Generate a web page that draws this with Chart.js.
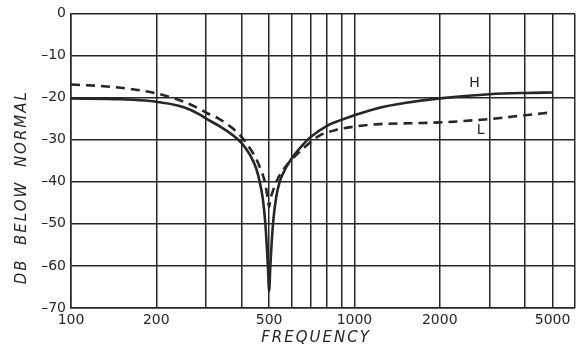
<!DOCTYPE html>
<html>
<head>
<meta charset="utf-8">
<script src="https://cdn.jsdelivr.net/npm/chart.js@4/dist/chart.umd.min.js"></script>
<style>
html, body { margin: 0; padding: 0; background: #fff; }
</style>
</head>
<body>
<canvas id="chart" width="583" height="350"></canvas>
<script>
// curve H (solid)
var freq_h = [100, 150, 190, 250, 284, 300, 334, 370, 400, 427, 450, 463, 475, 485, 495, 500, 505, 516, 530, 545, 560, 600, 650, 700, 800, 900, 1000, 1225, 1500, 2000, 3000, 4000, 5000];
var db_h = [-20.2, -20.4, -20.8, -22.3, -24.0, -25.0, -26.8, -28.8, -30.8, -33.5, -36.8, -40, -44, -50, -60, -66, -60, -50, -43.5, -40, -38, -34.5, -31.6, -29.4, -26.7, -25.3, -24.2, -22.4, -21.3, -20.2, -19.2, -18.9, -18.8];

// curve L (dashed)
var freq_l = [100, 130, 160, 200, 250, 284, 300, 334, 370, 400, 430, 450, 470, 483, 494, 500, 506, 518, 530, 560, 600, 657, 750, 870, 1000, 1225, 1600, 2000, 3000, 4000, 5000];
var db_l = [-16.9, -17.3, -17.9, -19.0, -21.0, -22.7, -23.6, -25.1, -27.2, -29.4, -32.3, -34.5, -37.6, -40, -43.8, -46, -44, -41.8, -40, -37.2, -34.8, -32.2, -29.1, -27.6, -26.9, -26.3, -26.1, -25.9, -25.1, -24.2, -23.5];

var grid_freqs = [100, 200, 300, 400, 500, 600, 700, 800, 900, 1000, 2000, 3000, 4000, 5000, 6000];
var labelled_freqs = [100, 200, 500, 1000, 2000, 5000];
var db_ticks = [0, -10, -20, -30, -40, -50, -60, -70];

var curve_names = ['H', 'L'];
var name_freq = [2650, 2790];
var name_db = [-16.7, -27.8];

function points(xs, ys) {
    return xs.map(function(x, i) { return {x: x, y: ys[i]}; });
}

var ink = '#262626';

// axis titles and curve names
var annotations = {
    id: 'annotations',
    afterDraw: function(chart) {
        var ctx = chart.ctx,
            area = chart.chartArea,
            xs = chart.scales.x,
            ys = chart.scales.y;

        ctx.save();
        ctx.fillStyle = ink;
        ctx.textAlign = 'center';
        ctx.textBaseline = 'middle';
        ctx.font = 'italic 15px "DejaVu Sans"';
        ctx.letterSpacing = '2px';
        ctx.fillText('FREQUENCY', 316, 338);
        ctx.translate(22, area.top + (area.bottom - area.top) * 0.59);
        ctx.rotate(-Math.PI / 2);
        ctx.fillText('DB  BELOW  NORMAL', 0, 0);
        ctx.restore();

        ctx.save();
        ctx.fillStyle = ink;
        ctx.textAlign = 'center';
        ctx.textBaseline = 'middle';
        ctx.font = '14px "DejaVu Sans"';
        curve_names.forEach(function(name, i) {
            ctx.fillText(name, xs.getPixelForValue(name_freq[i]), ys.getPixelForValue(name_db[i]));
        });
        ctx.restore();
    }
};

new Chart(document.getElementById('chart'), {
    type: 'line',
    data: {
        datasets: [{
            label: 'H',
            data: points(freq_h, db_h),
            borderColor: ink,
            borderWidth: 2.6,
            pointRadius: 0,
            cubicInterpolationMode: 'monotone'
        }, {
            label: 'L',
            data: points(freq_l, db_l),
            borderColor: ink,
            borderWidth: 2.6,
            borderDash: [9, 6],
            pointRadius: 0,
            cubicInterpolationMode: 'monotone'
        }]
    },
    options: {
        responsive: false,
        animation: false,
        layout: {
            padding: {left: 0, right: 8, top: 10, bottom: 0}
        },
        plugins: {
            legend: {display: false},
            tooltip: {enabled: false}
        },
        scales: {
            x: {
                type: 'logarithmic',
                min: 100,
                max: 6000,
                afterBuildTicks: function(scale) {
                    scale.ticks = grid_freqs.map(function(v) { return {value: v}; });
                },
                afterFit: function(scale) { scale.height = 42; },
                ticks: {
                    autoSkip: false,
                    maxRotation: 0,
                    padding: 4,
                    color: ink,
                    font: {family: 'DejaVu Sans', size: 14},
                    callback: function(v) {
                        return labelled_freqs.indexOf(v) >= 0 ? String(v) : '';
                    }
                },
                grid: {color: ink, lineWidth: 1.5, drawTicks: false},
                border: {color: ink, width: 1.5}
            },
            y: {
                min: -70,
                max: 0,
                afterBuildTicks: function(scale) {
                    scale.ticks = db_ticks.map(function(v) { return {value: v}; });
                },
                afterFit: function(scale) { scale.width = 71; },
                ticks: {
                    padding: 5,
                    color: ink,
                    font: {family: 'DejaVu Sans', size: 14},
                    callback: function(v) {
                        return v === 0 ? '0' : '\u2013' + Math.abs(v);
                    }
                },
                grid: {color: ink, lineWidth: 1.5, drawTicks: false},
                border: {color: ink, width: 1.5}
            }
        }
    },
    plugins: [annotations]
});
</script>
</body>
</html>
